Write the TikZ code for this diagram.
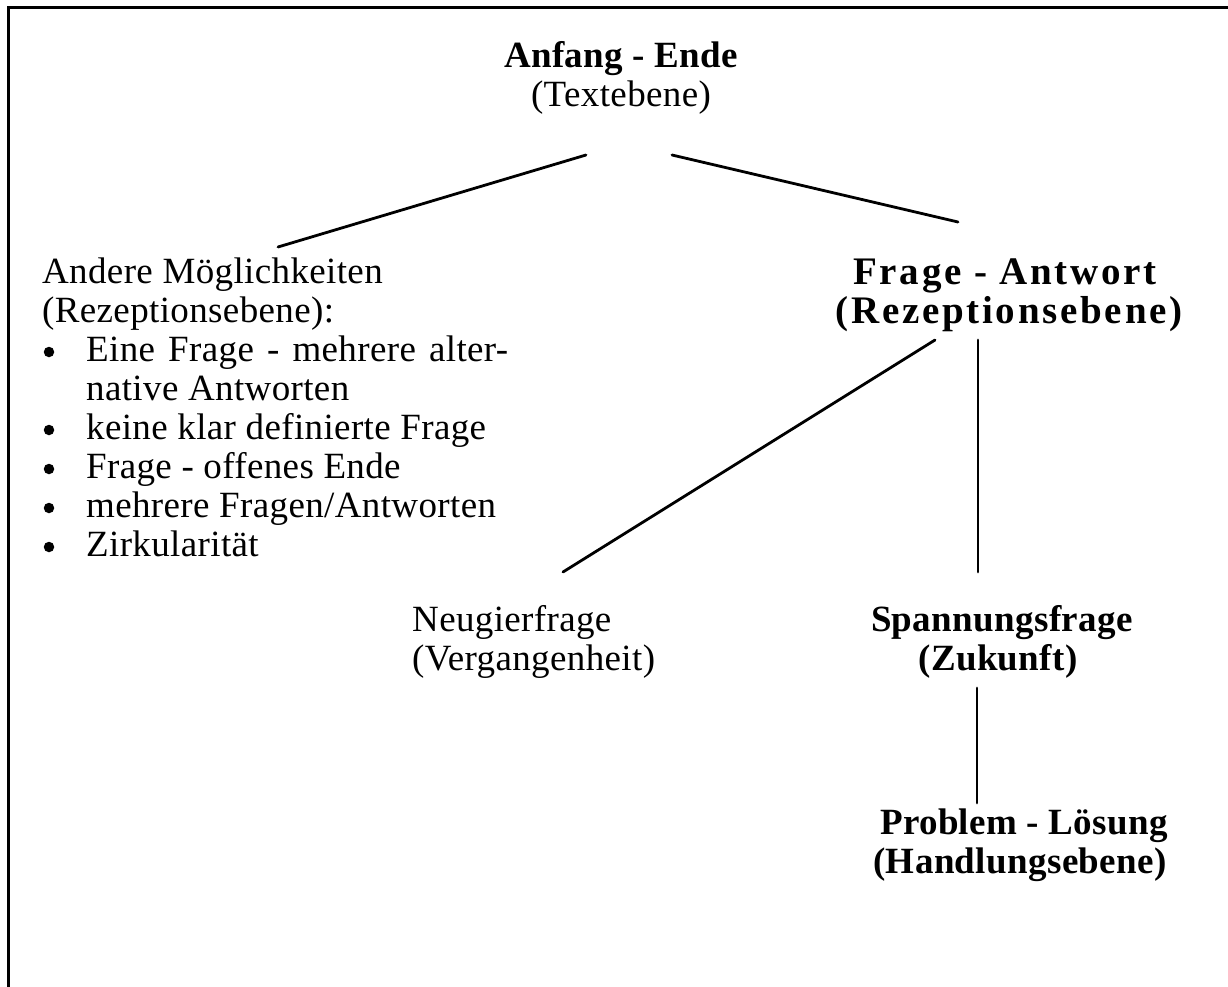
\documentclass[tikz,border=0pt]{standalone}
\usepackage{fontspec}
\setmainfont{Liberation Serif}[LetterSpace=1]
\begin{document}
\begin{tikzpicture}[x=1pt,y=-1pt,
  txt/.style={inner sep=0pt, anchor=base, font=\fontsize{37}{39}\selectfont},
  lft/.style={txt, anchor=base west},
  bft/.style={txt, font=\fontsize{37}{39}\selectfont\bfseries},
  wide/.style={bft, font=\fontsize{39}{39}\selectfont\bfseries\addfontfeature{LetterSpace=7}},
  bul/.style={circle, fill=black, inner sep=0pt, minimum size=10.5pt},
  conn/.style={line width=2.8pt, line cap=round},
  frame/.style={line width=3pt}]
\useasboundingbox (0,0) rectangle (1228,987);
\draw[frame] (8,987) -- (8,8) -- (1228,8);

% top
\node[bft] (top1) at (621,68) {Anfang - Ende};
\node[txt] (top2) at (621,107) {(Textebene)};

% left list
\node[lft] (l1) at (42,283) {Andere Möglichkeiten};
\node[lft] (l2) at (42,322) {(Rezeptionsebene):};
\node[bul] (b1) at (49,352) {};
\node[lft] (i1) at (86,361) {\makebox[422pt][s]{Eine Frage - mehrere alter-}};
\node[lft] (i1b) at (86,400) {native Antworten};
\node[bul] (b2) at (49,430) {};
\node[lft] (i2) at (86,439) {keine klar definierte Frage};
\node[bul] (b3) at (49,469) {};
\node[lft] (i3) at (86,478) {Frage - offenes Ende};
\node[bul] (b4) at (49,508) {};
\node[lft] (i4) at (86,517) {mehrere Fragen/Antworten};
\node[bul] (b5) at (49,547) {};
\node[lft] (i5) at (86,556) {Zirkularität};

% right
\node[wide] (fa1) at (1005,284) {Frage - Antwort};
\node[wide] (fa2) at (1009,323) {(Rezeptionsebene)};

\node[lft] (n1) at (412,631) {Neugierfrage};
\node[lft] (n2) at (412,670) {(Vergangenheit)};

\node[bft] (s1) at (1002,631) {Spannungsfrage};
\node[bft] (s2) at (998,670) {(Zukunft)};

\node[bft] (p1) at (1024,834) {Problem - Lösung};
\node[bft] (p2) at (1020,873) {(Handlungsebene)};

% connector ends
\coordinate (c1) at (586,155);
\coordinate (c2) at (278,247);
\coordinate (c3) at (672,155);
\coordinate (c4) at (958,222);
\coordinate (c5) at (935,340);
\coordinate (c6) at (563,572);
\coordinate (c7) at (978,340);
\coordinate (c8) at (978,572);
\coordinate (c9) at (977,688);
\coordinate (c10) at (977,803);

\draw[conn] (c1) -- (c2);
\draw[conn] (c3) -- (c4);
\draw[conn] (c5) -- (c6);
\draw[conn] (c7) -- (c8);
\draw[conn] (c9) -- (c10);
\end{tikzpicture}
\end{document}
